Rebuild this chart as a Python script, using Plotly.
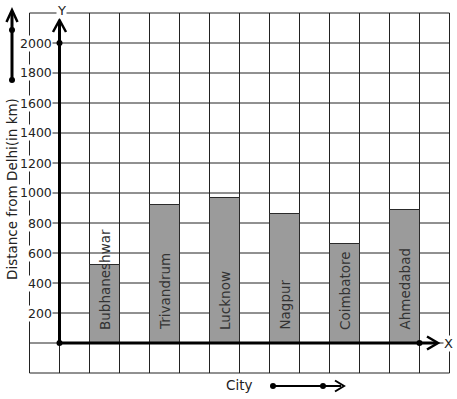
import plotly.graph_objects as go

cities = ["Bubhaneshwar", "Trivandrum", "Lucknow", "Nagpur", "Coimbatore", "Ahmedabad"]
distances = [520, 920, 970, 860, 660, 890]
y_ticks = [200, 400, 600, 800, 1000, 1200, 1400, 1600, 1800, 2000]
x_title = "City"
y_title = "Distance from Delhi(in km)"

W, H = 457, 399
OX, OY = 59.5, 343.0   # origin pixel
CELL = 30.0            # pixel per grid cell
YSTEP = 200.0          # km per grid cell

def px_x(px):
    return (px - OX) / CELL

def px_y(py):
    return (OY - py) / CELL * YSTEP

def pap_x(px):
    return px / W

def pap_y(py):
    return 1 - py / H

FONT = "DejaVu Sans"
INK = "#222222"

bar_x = [1.5 + 2 * i for i in range(len(cities))]

fig = go.Figure()
fig.add_trace(go.Bar(
    x=bar_x, y=distances, width=1.0,
    marker=dict(color="#9b9b9b", line=dict(color="#2a2a2a", width=1)),
    hoverinfo="skip",
))

shapes = []
# grid
for gx in range(-1, 14):
    shapes.append(dict(type="line", xref="x", yref="y", x0=gx, x1=gx, y0=-200, y1=2200,
                       line=dict(color=INK, width=1), layer="below"))
for gy in range(-200, 2201, 200):
    shapes.append(dict(type="line", xref="x", yref="y", x0=-1, x1=13, y0=gy, y1=gy,
                       line=dict(color=INK, width=1), layer="below"))

def line_px(x0, y0, x1, y1, w=3):
    return dict(type="line", xref="paper", yref="paper",
                x0=pap_x(x0), y0=pap_y(y0), x1=pap_x(x1), y1=pap_y(y1),
                line=dict(color="black", width=w), layer="above")

def dot_px(cx, cy, r=3):
    return dict(type="circle", xref="paper", yref="paper",
                x0=pap_x(cx - r), x1=pap_x(cx + r), y0=pap_y(cy - r), y1=pap_y(cy + r),
                fillcolor="black", line=dict(color="black", width=0), layer="above")

def chevron(pts, w=2.5):
    path = "M %f,%f" % (pap_x(pts[0][0]), pap_y(pts[0][1]))
    for p in pts[1:]:
        path += " L %f,%f" % (pap_x(p[0]), pap_y(p[1]))
    return dict(type="path", xref="paper", yref="paper", path=path,
                line=dict(color="black", width=w), layer="above")

# axes
shapes.append(line_px(OX, OY, OX, 22))
shapes.append(chevron([(53, 32), (OX, 20), (66, 32)]))
shapes.append(line_px(OX, OY, 436, OY))
shapes.append(chevron([(427, 336.5), (438, OY), (427, 349.5)]))
shapes.append(dot_px(OX, OY))
shapes.append(dot_px(OX, 43))
shapes.append(dot_px(419.5, OY))

# top-left indicator arrow
shapes.append(line_px(12, 80, 12, 12))
shapes.append(chevron([(6.5, 22), (12, 10), (17.5, 22)]))
shapes.append(dot_px(12, 30))
shapes.append(dot_px(12, 80))

# bottom indicator arrow
shapes.append(line_px(273, 386, 341, 386, w=2))
shapes.append(chevron([(335, 380.5), (344, 386), (335, 391.5)], w=2))
shapes.append(dot_px(273, 386))
shapes.append(dot_px(323, 386))

annotations = []
for t in y_ticks:
    annotations.append(dict(x=pap_x(53), y=pap_y(OY - t / YSTEP * CELL), xref="paper", yref="paper",
                            text=str(t), showarrow=False, xanchor="right", yanchor="middle",
                            font=dict(family=FONT, size=12.5, color=INK),
                            bgcolor="white", borderpad=0))
for xc, name in zip(bar_x, cities):
    annotations.append(dict(x=xc, y=px_y(332), xref="x", yref="y", text=name,
                            showarrow=False, textangle=-90, xanchor="center", yanchor="bottom",
                            font=dict(family=FONT, size=13.5, color="#333333")))
annotations.append(dict(x=pap_x(12), y=pap_y(189), xref="paper", yref="paper", text=y_title,
                        showarrow=False, textangle=-90, xanchor="center", yanchor="middle",
                        font=dict(family=FONT, size=13.5, color=INK), bgcolor="white", borderpad=0))
annotations.append(dict(x=pap_x(238.5), y=pap_y(385), xref="paper", yref="paper", text=x_title,
                        showarrow=False, xanchor="center", yanchor="middle",
                        font=dict(family=FONT, size=13.5, color=INK)))
annotations.append(dict(x=pap_x(61), y=pap_y(10), xref="paper", yref="paper", text="Y",
                        showarrow=False, xanchor="center", yanchor="middle",
                        font=dict(family=FONT, size=13, color=INK), bgcolor="white", borderpad=0))
annotations.append(dict(x=pap_x(448), y=pap_y(OY), xref="paper", yref="paper", text="X",
                        showarrow=False, xanchor="center", yanchor="middle",
                        font=dict(family=FONT, size=13, color=INK), bgcolor="white", borderpad=0))

fig.update_layout(
    width=W, height=H,
    margin=dict(l=0, r=0, t=0, b=0),
    paper_bgcolor="white", plot_bgcolor="white",
    showlegend=False,
    xaxis=dict(range=[px_x(0), px_x(W)], visible=False, fixedrange=True),
    yaxis=dict(range=[px_y(H), px_y(0)], visible=False, fixedrange=True),
    shapes=shapes,
    annotations=annotations,
    bargap=0,
)

fig.write_html(
    "out.html",
    config={"displayModeBar": False},
    post_script="document.body.style.margin='0';document.body.style.padding='0';document.body.style.overflow='hidden';",
)
